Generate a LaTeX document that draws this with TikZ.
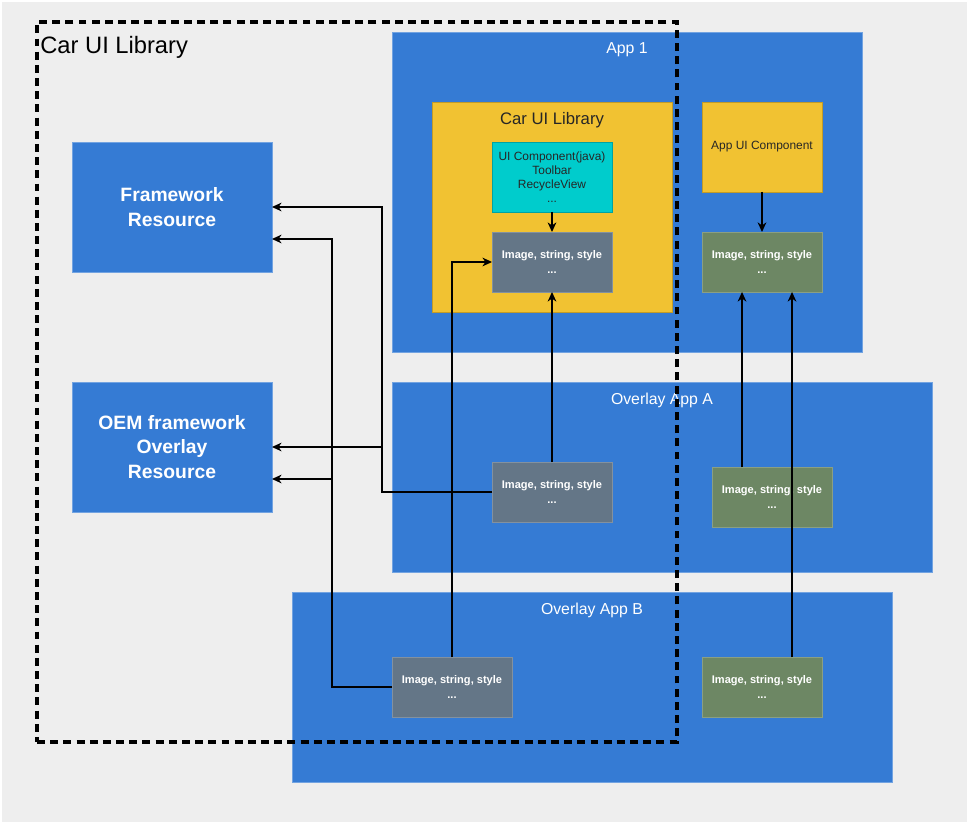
\documentclass[tikz,border=0pt]{standalone}
\usepackage{fontspec}
\setmainfont{Liberation Sans}
\usetikzlibrary{positioning}
\usetikzlibrary{calc}
\usetikzlibrary{arrows.meta}
\definecolor{panelgray}{HTML}{EEEEEE}
\definecolor{areablue}{HTML}{357BD4}
\definecolor{libyellow}{HTML}{F1C232}
\definecolor{uiteal}{HTML}{00CCCC}
\definecolor{resslate}{HTML}{647687}
\definecolor{resgreen}{HTML}{6D8764}
\tikzset{
  box/.style      = {shape=rectangle, inner sep=0pt, outer sep=0pt, align=center},
  area/.style     = {box, fill=areablue, draw=areablue!70!white},
  fwres/.style    = {area, text=white, minimum width=4cm, minimum height=2.6cm,
                     font=\fontsize{11}{14}\selectfont\bfseries},
  libbox/.style   = {box, fill=libyellow, draw=libyellow!80!black},
  uibox/.style    = {box, minimum width=2.4cm, text=black!85,
                     font=\fontsize{6.8}{8}\selectfont},
  imgbox/.style   = {box, minimum width=2.4cm, minimum height=1.2cm, text=white,
                     font=\fontsize{6.3}{9}\selectfont\bfseries},
  libimg/.style   = {imgbox, fill=resslate, draw=resslate!80!white},
  appimg/.style   = {imgbox, fill=resgreen, draw=resgreen!80!white},
  areatitle/.style= {font=\fontsize{9}{11}\selectfont, text=white, inner sep=0pt},
  libtitle/.style = {font=\fontsize{9.5}{11}\selectfont, text=black!85, inner sep=0pt},
  libframe/.style = {box, draw=black, line width=1.8pt, dash pattern=on 4.5pt off 3pt},
  link/.style     = {-{Stealth[length=5.5pt,width=5pt]}, line width=0.6pt}
}

\begin{document}
\begin{tikzpicture}[x=0.02cm, y=-0.02cm]
  \useasboundingbox (0,0) rectangle (970,825);
  \fill[panelgray] (2,2) rectangle (967,822);

  % resources on the left
  \node [fwres] (fw) at (172,207) {Framework\\Resource};
  \node [fwres] (oem) at (172,447) {OEM framework\\Overlay\\Resource};

  % app 1
  \node [area, minimum width=9.4cm, minimum height=6.4cm] (app1) at (627,192) {};
  \node [areatitle] at ($(app1.north)+(0,18)$) {App 1};
  \node [libbox, minimum width=4.8cm, minimum height=4.2cm] (lib) at (552,207) {};
  \node [libtitle] at ($(lib.north)+(0,18)$) {Car UI Library};
  \node [uibox, fill=uiteal, draw=uiteal!80!black, minimum height=1.4cm] (libui) at (552,177)
        {UI Component(java)\\Toolbar\\RecycleView\\...};
  \node [libimg] (libres) [below=0.4cm of libui] {Image, string, style\\...};
  \node [uibox, fill=libyellow, draw=libyellow!80!black, minimum height=1.8cm] (appui) at (762,147)
        {App UI Component};
  \node [appimg] (appres) [below=0.8cm of appui] {Image, string, style\\...};

  % overlay app A
  \node [area, minimum width=10.8cm, minimum height=3.8cm] (ova) at (662,477) {};
  \node [areatitle] at ($(ova.north)+(0,18)$) {Overlay App A};
  \node [libimg] (ares) at (552,492) {Image, string, style\\...};
  \node [appimg] (agres) at (772,497) {Image, string, style\\...};

  % overlay app B
  \node [area, minimum width=12cm, minimum height=3.8cm] (ovb) at (592,687) {};
  \node [areatitle] at ($(ovb.north)+(0,18)$) {Overlay App B};
  \node [libimg] (bres) at (452,687) {Image, string, style\\...};
  \node [appimg] (bgres) at (762,687) {Image, string, style\\...};

  \coordinate (busa) at (382,0);
  \coordinate (busb) at (332,0);

  \path[link] (libui) edge (libres);
  \path[link] (appui) edge (appres);
  \path[link] (ares) edge (libres);
  \draw[link] (bres.north) |- (libres.west);
  \draw[link] ($(agres.north west)+(30,0)$) -- ($(appres.south west)+(40,0)$);
  \draw[link] ($(bgres.north west)+(90,0)$) -- ($(appres.south west)+(90,0)$);
  \draw[link] (ares.west) -| (busa |- fw.east) -- (fw.east);
  \draw[link] (busa |- oem.east) -- (oem.east);
  \draw[link] (bres.west) -| (busb |- 0,239) -- (fw.east |- 0,239);
  \draw[link] (busb |- 0,479) -- (oem.east |- 0,479);

  \node [libframe, minimum width=12.8cm, minimum height=14.4cm] (carui) at (357,382) {};
  \node [font=\fontsize{13.5}{16}\selectfont, inner sep=0pt, anchor=west] at (40,47) {Car UI Library};
\end{tikzpicture}
\end{document}
